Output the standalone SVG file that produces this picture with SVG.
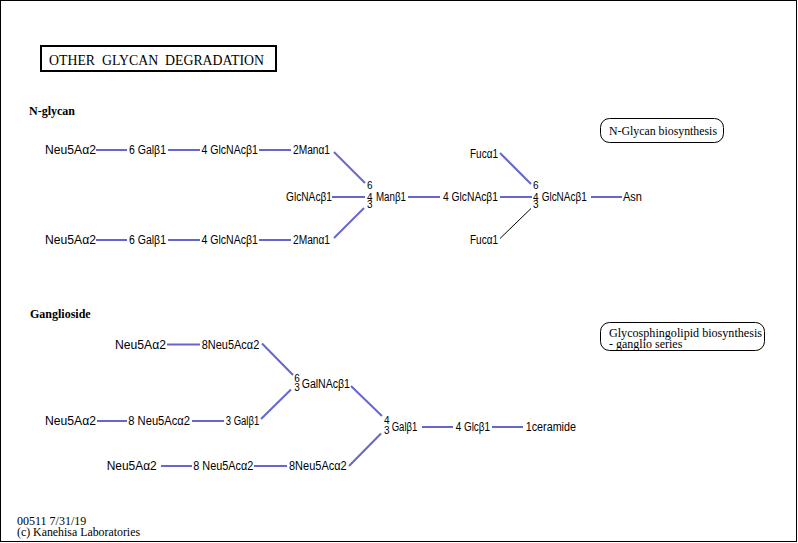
<svg xmlns="http://www.w3.org/2000/svg" width="798" height="543" viewBox="0 0 798 543">
<style>
.s{font-family:"Liberation Sans",Arial,sans-serif;font-size:12px;fill:#000}
.d{font-family:"Liberation Sans",Arial,sans-serif;font-size:10px;fill:#000}
.t{font-family:"Liberation Serif","Times New Roman",serif;fill:#000}
.c line{stroke:#6666cc;stroke-width:2}
.c line.k{stroke:#000;stroke-width:1}
.box{fill:none;stroke:#000;stroke-width:1}
</style>
<rect x="0.5" y="0.5" width="796" height="541" fill="#fff" stroke="#000" stroke-width="1"/>
<g id="title">
<rect x="41" y="46" width="235" height="25" fill="none" stroke="#000" stroke-width="2"/>
<text class="t" x="49" y="65" font-size="14" xml:space="preserve" textLength="215" lengthAdjust="spacingAndGlyphs">OTHER  GLYCAN  DEGRADATION</text>
</g>
<text class="t" x="29" y="115" font-size="12" font-weight="bold">N-glycan</text>
<text class="t" x="30" y="318" font-size="12" font-weight="bold">Ganglioside</text>
<g id="map-nglycan">
<rect class="box" x="600.5" y="118.5" width="123" height="24" rx="9"/>
<text class="t" x="609" y="135" font-size="12" textLength="108" lengthAdjust="spacingAndGlyphs">N-Glycan biosynthesis</text>
</g>
<g id="map-ganglio">
<rect class="box" x="600.5" y="322.5" width="164" height="28" rx="9"/>
<text class="t" x="609" y="337" font-size="12" textLength="153" lengthAdjust="spacingAndGlyphs">Glycosphingolipid biosynthesis</text>
<text class="t" x="609" y="347.5" font-size="12">- ganglio series</text>
</g>
<g class="c" id="connectors">
<line x1="96" y1="150" x2="127" y2="150"/>
<line x1="168" y1="150" x2="200" y2="150"/>
<line x1="259" y1="150" x2="291" y2="150"/>
<line x1="334" y1="152" x2="365" y2="183"/>
<line x1="96" y1="240" x2="127" y2="240"/>
<line x1="168" y1="240" x2="200" y2="240"/>
<line x1="259" y1="240" x2="291" y2="240"/>
<line x1="334" y1="238" x2="364" y2="208"/>
<line x1="332" y1="197" x2="365" y2="197"/>
<line x1="408" y1="197" x2="440" y2="197"/>
<line x1="500" y1="197" x2="532" y2="197"/>
<line x1="591" y1="197" x2="622" y2="197"/>
<line x1="500" y1="153" x2="531" y2="184"/>
<line class="k" x1="500" y1="238.5" x2="531" y2="208.5"/>
<line x1="167" y1="344.5" x2="200" y2="344.5"/>
<line x1="262" y1="343.5" x2="293" y2="375"/>
<line x1="97" y1="421" x2="127" y2="421"/>
<line x1="192" y1="421" x2="224" y2="421"/>
<line x1="261" y1="419" x2="291" y2="389.5"/>
<line x1="351" y1="386" x2="382" y2="416"/>
<line x1="422" y1="427" x2="453" y2="427"/>
<line x1="492" y1="427" x2="523" y2="427"/>
<line x1="161" y1="466" x2="192" y2="466"/>
<line x1="254" y1="466" x2="287" y2="466"/>
<line x1="349" y1="466" x2="381" y2="433.5"/>
</g>
<g id="n-neu1"><text class="s" x="45" y="154.3" textLength="51" lengthAdjust="spacingAndGlyphs">Neu5Aα2</text></g>
<g id="n-gal1"><text class="s" x="129" y="154.3" textLength="37" lengthAdjust="spacingAndGlyphs">6 Galβ1</text></g>
<g id="n-glcnac1"><text class="s" x="201.5" y="154.3" textLength="56.5" lengthAdjust="spacingAndGlyphs">4 GlcNAcβ1</text></g>
<g id="n-man1"><text class="s" x="293" y="154.3" textLength="37" lengthAdjust="spacingAndGlyphs">2Manα1</text></g>
<g id="n-neu2"><text class="s" x="45" y="244.3" textLength="51" lengthAdjust="spacingAndGlyphs">Neu5Aα2</text></g>
<g id="n-gal2"><text class="s" x="129" y="244.3" textLength="37" lengthAdjust="spacingAndGlyphs">6 Galβ1</text></g>
<g id="n-glcnac2"><text class="s" x="201.5" y="244.3" textLength="56.5" lengthAdjust="spacingAndGlyphs">4 GlcNAcβ1</text></g>
<g id="n-man2"><text class="s" x="293" y="244.3" textLength="37" lengthAdjust="spacingAndGlyphs">2Manα1</text></g>
<g id="n-glcnac3"><text class="s" x="286" y="201" textLength="46" lengthAdjust="spacingAndGlyphs">GlcNAcβ1</text></g>
<g id="n-manb">
<text class="d" x="367" y="189.3">6</text><text class="d" x="367" y="200.5">4</text><text class="d" x="367" y="208.2">3</text>
<text class="s" x="376" y="201" textLength="30" lengthAdjust="spacingAndGlyphs">Manβ1</text>
</g>
<g id="n-glcnac4"><text class="s" x="443" y="201" textLength="55" lengthAdjust="spacingAndGlyphs">4 GlcNAcβ1</text></g>
<g id="n-glcnac5">
<text class="d" x="533" y="189.3">6</text><text class="d" x="533" y="200.5">4</text><text class="d" x="533" y="208.2">3</text>
<text class="s" x="541.7" y="201" textLength="45" lengthAdjust="spacingAndGlyphs">GlcNAcβ1</text>
</g>
<g id="n-asn"><text class="s" x="623" y="201" textLength="19" lengthAdjust="spacingAndGlyphs">Asn</text></g>
<g id="n-fuc1"><text class="s" x="470" y="157.8" textLength="28" lengthAdjust="spacingAndGlyphs">Fucα1</text></g>
<g id="n-fuc2"><text class="s" x="470" y="244" textLength="28" lengthAdjust="spacingAndGlyphs">Fucα1</text></g>
<g id="g-neu1"><text class="s" x="115" y="348.6" textLength="51" lengthAdjust="spacingAndGlyphs">Neu5Aα2</text></g>
<g id="g-neu2"><text class="s" x="201.7" y="348.6" textLength="57.6" lengthAdjust="spacingAndGlyphs">8Neu5Acα2</text></g>
<g id="g-galnac">
<text class="d" x="294.3" y="381.5">6</text><text class="d" x="294.3" y="390.5">3</text>
<text class="s" x="301.7" y="387.6" textLength="48.3" lengthAdjust="spacingAndGlyphs">GalNAcβ1</text>
</g>
<g id="g-neu3"><text class="s" x="45" y="425" textLength="51" lengthAdjust="spacingAndGlyphs">Neu5Aα2</text></g>
<g id="g-neu4"><text class="s" x="128.3" y="425" textLength="61.7" lengthAdjust="spacingAndGlyphs">8 Neu5Acα2</text></g>
<g id="g-gal1"><text class="s" x="225.7" y="425" textLength="33.6" lengthAdjust="spacingAndGlyphs">3 Galβ1</text></g>
<g id="g-gal2">
<text class="d" x="384" y="424.2">4</text><text class="d" x="384" y="433.5">3</text>
<text class="s" x="391.7" y="431" textLength="25.6" lengthAdjust="spacingAndGlyphs">Galβ1</text>
</g>
<g id="g-glc"><text class="s" x="455.7" y="431" textLength="34.3" lengthAdjust="spacingAndGlyphs">4 Glcβ1</text></g>
<g id="g-cer"><text class="s" x="525.7" y="431" textLength="50.3" lengthAdjust="spacingAndGlyphs">1ceramide</text></g>
<g id="g-neu5"><text class="s" x="106.7" y="470" textLength="50" lengthAdjust="spacingAndGlyphs">Neu5Aα2</text></g>
<g id="g-neu6"><text class="s" x="193.3" y="470" textLength="60" lengthAdjust="spacingAndGlyphs">8 Neu5Acα2</text></g>
<g id="g-neu7"><text class="s" x="289" y="470" textLength="57.7" lengthAdjust="spacingAndGlyphs">8Neu5Acα2</text></g>
<text class="t" x="17" y="525" font-size="12">00511 7/31/19</text>
<text class="t" x="17" y="536" font-size="12" textLength="123" lengthAdjust="spacingAndGlyphs">(c) Kanehisa Laboratories</text>
</svg>
